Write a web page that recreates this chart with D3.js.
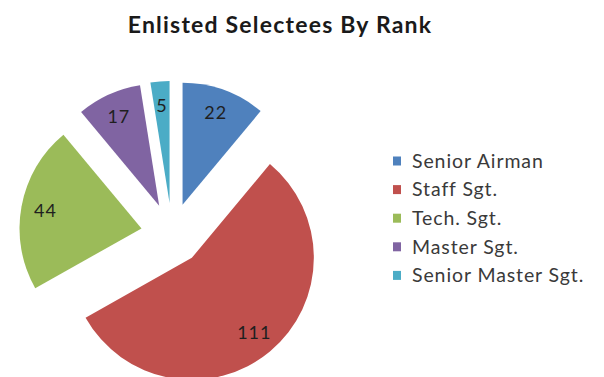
<!DOCTYPE html>
<html>
<head>
<meta charset="utf-8">
<script src="https://cdn.jsdelivr.net/npm/d3@7"></script>
<style>
  body { margin: 0; background: #fff; }
  svg { display: block; font-family: Lato, 'Open Sans', sans-serif; }
</style>
</head>
<body>
<svg id="chart"></svg>
<script>
const title = 'Enlisted Selectees By Rank';
const ranks = ['Senior Airman', 'Staff Sgt.', 'Tech. Sgt.', 'Master Sgt.', 'Senior Master Sgt.'];
const selectees = [22, 111, 44, 17, 5];
const rankColors = ['#4F81BD', '#C0504D', '#9BBB59', '#8064A2', '#4BACC6'];

const width = 604, height = 377;
const cx = 172, cy = 234;
const radius = 122;
const explode = 31;

const svg = d3.select('#chart')
  .attr('width', width)
  .attr('height', height);

svg.append('text')
  .attr('x', 280)
  .attr('y', 33)
  .attr('text-anchor', 'middle')
  .attr('font-size', 23)
  .attr('font-weight', 'bold')
  .attr('letter-spacing', 1.2)
  .attr('fill', '#1a1a1a')
  .text(title);

const colorScale = d3.scaleOrdinal()
  .domain(ranks)
  .range(rankColors);

const data = ranks.map((r, i) => ({ rank: r, value: selectees[i] }));

const pie = d3.pie()
  .sort(null)
  .value(d => d.value);

const arc = d3.arc()
  .innerRadius(0)
  .outerRadius(radius);

const pieG = svg.append('g')
  .attr('transform', `translate(${cx},${cy})`);

// each slice pushed out along its middle angle
const offset = d => {
  const mid = (d.startAngle + d.endAngle) / 2;
  return [explode * Math.sin(mid), -explode * Math.cos(mid)];
};

const slices = pieG.selectAll('.slice')
  .data(pie(data))
  .enter().append('g')
  .attr('class', 'slice')
  .attr('transform', d => `translate(${offset(d)})`);

slices.append('path')
  .attr('d', arc)
  .attr('fill', d => colorScale(d.data.rank));

slices.append('text')
  .attr('transform', d => {
    const mid = (d.startAngle + d.endAngle) / 2;
    const lr = radius * 0.8;
    return `translate(${lr * Math.sin(mid)},${-lr * Math.cos(mid)})`;
  })
  .attr('text-anchor', 'middle')
  .attr('dy', '0.35em')
  .attr('font-size', 18)
  .attr('letter-spacing', 1)
  .attr('fill', '#1f1f1f')
  .text(d => d.data.value);

// legend
const legend = svg.append('g')
  .attr('transform', 'translate(393, 161)');

const items = legend.selectAll('.legend-item')
  .data(ranks)
  .enter().append('g')
  .attr('class', 'legend-item')
  .attr('transform', (d, i) => `translate(0, ${i * 28.6})`);

items.append('rect')
  .attr('x', 0)
  .attr('y', -4.5)
  .attr('width', 8)
  .attr('height', 9)
  .attr('fill', colorScale);

items.append('text')
  .attr('x', 19)
  .attr('dy', '0.35em')
  .attr('font-size', 19.5)
  .attr('letter-spacing', 0.9)
  .attr('fill', '#3a3a3a')
  .text(d => d);
</script>
</body>
</html>
